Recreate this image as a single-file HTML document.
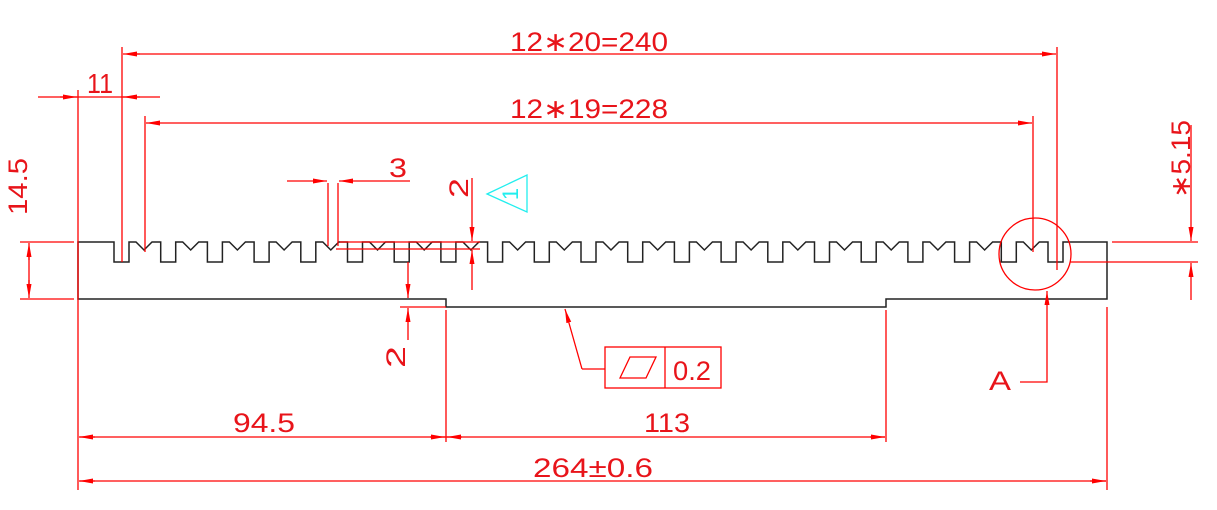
<!DOCTYPE html>
<html><head><meta charset="utf-8"><style>
html,body{margin:0;padding:0;background:#fff;}
svg{display:block;}
text{font-family:"Liberation Sans",sans-serif;fill:#e8141a;}
</style></head><body>
<svg id="s" width="1217" height="510" viewBox="0 0 1217 510" xmlns="http://www.w3.org/2000/svg">
<defs>
<marker id="a" markerWidth="14" markerHeight="6" refX="14" refY="3" orient="auto" markerUnits="userSpaceOnUse">
<path d="M0,0.5 L14,3 L0,5.5 Z" fill="#f00"/>
</marker>
</defs>
<g id="body" fill="none" stroke="#222" stroke-width="1.5"></g>
<g stroke="#f00" stroke-width="1.3" fill="none">
<line x1="122" y1="47" x2="122" y2="262"/>
<line x1="1057" y1="47" x2="1057" y2="270"/>
<line x1="140" y1="54" x2="123" y2="54" marker-end="url(#a)"/>
<line x1="1040" y1="54" x2="1056" y2="54" marker-end="url(#a)"/>
<line x1="135" y1="54" x2="1045" y2="54"/>
<line x1="145" y1="116" x2="145" y2="252"/>
<line x1="1033" y1="116" x2="1033" y2="252"/>
<line x1="160" y1="123" x2="146" y2="123" marker-end="url(#a)"/>
<line x1="1018" y1="123" x2="1032" y2="123" marker-end="url(#a)"/>
<line x1="155" y1="123" x2="1020" y2="123"/>
<line x1="78" y1="90" x2="78" y2="490"/>
<line x1="38" y1="97" x2="160" y2="97"/>
<line x1="60" y1="97" x2="77" y2="97" marker-end="url(#a)"/>
<line x1="140" y1="97" x2="123" y2="97" marker-end="url(#a)"/>
<line x1="20" y1="242" x2="74" y2="242"/>
<line x1="20" y1="299" x2="74" y2="299"/>
<line x1="29" y1="260" x2="29" y2="243" marker-end="url(#a)"/>
<line x1="29" y1="280" x2="29" y2="298" marker-end="url(#a)"/>
<line x1="29" y1="250" x2="29" y2="292"/>
<line x1="328" y1="183" x2="328" y2="246"/>
<line x1="338" y1="183" x2="338" y2="246"/>
<line x1="287" y1="181" x2="327" y2="181" marker-end="url(#a)"/>
<line x1="410" y1="181" x2="339" y2="181" marker-end="url(#a)"/>
<line x1="340" y1="242" x2="480" y2="242"/>
<line x1="336" y1="249" x2="480" y2="249"/>
<line x1="472" y1="178" x2="472" y2="241" marker-end="url(#a)"/>
<line x1="472" y1="290" x2="472" y2="250" marker-end="url(#a)"/>
<line x1="400" y1="307" x2="446" y2="307"/>
<line x1="408" y1="262" x2="408" y2="298" marker-end="url(#a)"/>
<line x1="408" y1="340" x2="408" y2="308" marker-end="url(#a)"/>
<line x1="446" y1="310" x2="446" y2="442"/>
<line x1="886" y1="310" x2="886" y2="442"/>
<line x1="1107" y1="307" x2="1107" y2="490"/>
<line x1="95" y1="437" x2="79" y2="437" marker-end="url(#a)"/>
<line x1="430" y1="437" x2="445" y2="437" marker-end="url(#a)"/>
<line x1="462" y1="437" x2="447" y2="437" marker-end="url(#a)"/>
<line x1="870" y1="437" x2="885" y2="437" marker-end="url(#a)"/>
<line x1="80" y1="437" x2="885" y2="437"/>
<line x1="95" y1="481" x2="79" y2="481" marker-end="url(#a)"/>
<line x1="1090" y1="481" x2="1106" y2="481" marker-end="url(#a)"/>
<line x1="80" y1="481" x2="1106" y2="481"/>
<line x1="582" y1="369" x2="565" y2="309" marker-end="url(#a)"/>
<polyline points="582,369 605,369"/>
<rect x="605" y="347" width="116" height="41"/>
<line x1="665" y1="347" x2="665" y2="388"/>
<polygon points="620,378 630,357 656,357 646,378"/>
<circle cx="1035" cy="254" r="36"/>
<polyline points="1020,382 1047,382 1047,305"/>
<line x1="1047" y1="305" x2="1047" y2="291" marker-end="url(#a)"/>
<line x1="1112" y1="242" x2="1198" y2="242"/>
<line x1="1070" y1="262" x2="1198" y2="262"/>
<line x1="1191" y1="125" x2="1191" y2="241" marker-end="url(#a)"/>
<line x1="1191" y1="300" x2="1191" y2="263" marker-end="url(#a)"/>
</g>
<g fill="none" stroke="#2ee" stroke-width="1.3">
<polygon points="487,194 527,175 527,212"/>
</g>
<text x="512" y="200" transform="rotate(-90 512 194)" font-size="22" style="fill:#2ee" text-anchor="middle">1</text>
<g font-size="27">
<text x="510" y="51" textLength="158" lengthAdjust="spacingAndGlyphs">12∗20=240</text>
<text x="510" y="118" textLength="158" lengthAdjust="spacingAndGlyphs">12∗19=228</text>
<text x="87" y="93" font-size="28" textLength="26" lengthAdjust="spacingAndGlyphs">11</text>
<text x="389" y="177" textLength="18" lengthAdjust="spacingAndGlyphs">3</text>
<text x="673" y="380" textLength="38" lengthAdjust="spacingAndGlyphs">0.2</text>
<text x="989" y="390" textLength="22" lengthAdjust="spacingAndGlyphs">A</text>
<text x="233" y="432" textLength="62" lengthAdjust="spacingAndGlyphs">94.5</text>
<text x="644" y="432" textLength="46" lengthAdjust="spacingAndGlyphs">113</text>
<text x="533" y="477" textLength="120" lengthAdjust="spacingAndGlyphs">264±0.6</text>
<text transform="translate(27 215) rotate(-90)" textLength="57" lengthAdjust="spacingAndGlyphs">14.5</text>
<text transform="translate(468 198) rotate(-90)" textLength="20" lengthAdjust="spacingAndGlyphs">2</text>
<text transform="translate(405 368) rotate(-90)" textLength="22" lengthAdjust="spacingAndGlyphs">2</text>
<text transform="translate(1190 198) rotate(-90)" textLength="78" lengthAdjust="spacingAndGlyphs">∗5.15</text>
</g>
</svg>
<script>
(function(){
var d="M78,299 L78,242 ";
var p=(1048-114)/20;
for(var k=0;k<=20;k++){
  var s=114+p*k;
  d+="L"+s+",242 L"+s+",262 L"+(s+15)+",262 L"+(s+15)+",242 ";
  if(k<20){d+="L"+(s+22)+",242 L"+(s+30)+",250 L"+(s+38)+",242 ";}
}
d+="L1107,242 L1107,299 L886,299 L886,307 L446,307 L446,299 Z";
var pa=document.createElementNS("http://www.w3.org/2000/svg","path");
pa.setAttribute("d",d);
document.getElementById("body").appendChild(pa);
})();
</script>
</body></html>
